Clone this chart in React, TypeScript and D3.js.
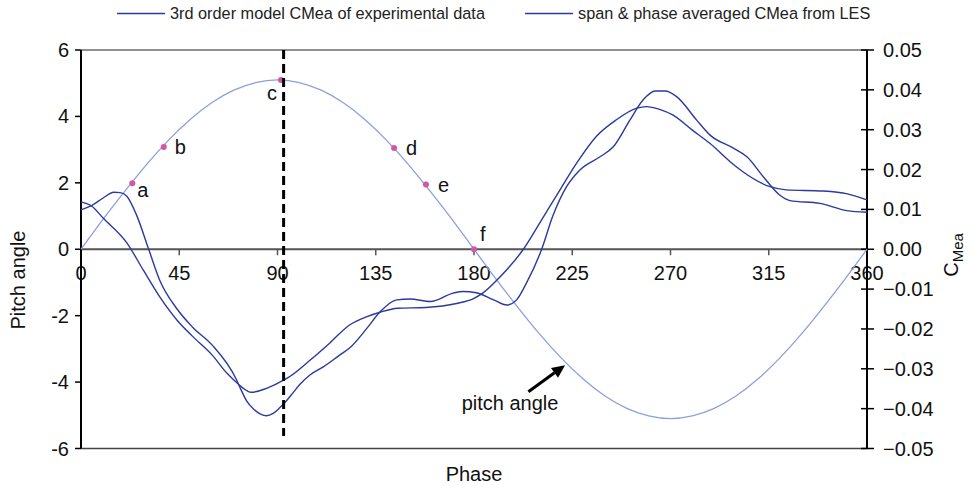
import React from "react";
import * as d3 from "d3";

// ---------- data ----------
const pitchPhase = [0, 10, 20, 30, 40, 50, 60, 70, 80, 90, 100, 110, 120, 130, 140, 150, 160, 170, 180,
  190, 200, 210, 220, 230, 240, 250, 260, 270, 280, 290, 300, 310, 320, 330, 340, 350, 360];
const pitchValues = [0, 0.89, 1.74, 2.55, 3.28, 3.91, 4.42, 4.79, 5.02, 5.1, 5.02, 4.79, 4.42, 3.91, 3.28, 2.55, 1.74, 0.89, 0,
  -0.89, -1.74, -2.55, -3.28, -3.91, -4.42, -4.79, -5.02, -5.1, -5.02, -4.79, -4.42, -3.91, -3.28, -2.55, -1.74, -0.89, 0];

// 3rd order model CMea of experimental data
const modelPhase = [0, 5, 10, 21, 28.5, 36, 44, 51, 60, 67, 72, 76, 78, 85, 93, 96, 105, 114, 123, 131, 137, 145, 158, 172, 180,
  184, 192, 202.6, 210, 219.4, 227, 236, 245, 254.5, 259, 265, 271, 280, 288, 299, 303, 315.6, 323, 340, 351, 360];
const modelValues = [0.0119, 0.0108, 0.0079, 0.0016, -0.0052, -0.0119, -0.0178, -0.0218, -0.0265, -0.0312, -0.0338, -0.0355, -0.0359, -0.0349, -0.0328, -0.0318, -0.0278, -0.0235, -0.019, -0.0169, -0.0158, -0.0148, -0.0146, -0.0136, -0.0123,
  -0.011, -0.0069, 0, 0.0065, 0.0149, 0.0216, 0.0283, 0.0324, 0.0354, 0.0358, 0.0351, 0.0337, 0.0299, 0.0266, 0.0212, 0.0195, 0.0157, 0.0149, 0.0146, 0.0139, 0.0124];

// span & phase averaged CMea from LES
const lesPhase = [0, 5, 10, 15, 18, 21, 25.5, 31, 36, 44, 51, 60, 71, 73, 76, 79, 82, 85, 88, 91, 94, 97, 100.3, 105, 111, 118.6, 123, 131, 137, 144.6, 150.7, 160, 170.5, 175, 181, 189, 195, 199.5, 204, 211, 216, 222.4, 228.5, 237.7, 243.8, 251.4, 257.5, 263, 267.5, 272.8, 282, 288, 299, 305, 312.5, 320, 324.7, 338.5, 350.7, 360];
const lesValues = [0.0099, 0.011, 0.0128, 0.0143, 0.0142, 0.0133, 0.0085, 0, -0.0077, -0.015, -0.0195, -0.024, -0.0325, -0.0349, -0.0382, -0.0401, -0.0413, -0.0418, -0.0412, -0.0398, -0.0381, -0.0361, -0.0339, -0.0315, -0.0295, -0.0265, -0.0248, -0.0198, -0.0157, -0.0127, -0.0125, -0.0131, -0.011, -0.0106, -0.0109, -0.0127, -0.014, -0.0127, -0.0085, 0, 0.0082, 0.0157, 0.0199, 0.0232, 0.0257, 0.0324, 0.0375, 0.0397, 0.0397, 0.0383, 0.0324, 0.0287, 0.0253, 0.0232, 0.0182, 0.0136, 0.0122, 0.0115, 0.0097, 0.0093];

const markerLabels = ["a", "b", "c", "d", "e", "f"];
const markerPhase = [23.5, 37.9, 91.6, 143.4, 158, 180];
const markerPitch = [1.99, 3.08, 5.1, 3.05, 1.95, 0];

const xTicks = [0, 45, 90, 135, 180, 225, 270, 315, 360];
const leftTicks = [-6, -4, -2, 0, 2, 4, 6];
const rightTicks = [-0.05, -0.04, -0.03, -0.02, -0.01, 0, 0.01, 0.02, 0.03, 0.04, 0.05];

const legendLabels = ["3rd order model CMea of experimental data", "span & phase averaged CMea from LES"];

const dashedPhase = 92.8;
const arrowFrom = [204.9, -4.29];
const arrowTo = [221.7, -3.49];
const arrowText = "pitch angle";
const arrowTextAt = [196.5, -4.84];

// ---------- style ----------
const W = 972, H = 486;
const FONT = "'Liberation Sans', Arial, Helvetica, sans-serif";
const DARK = "#2a3a9e";
const LIGHT = "#8e9fdc";
const PINK = "#d257a6";
const labelOffsets = [[5, 14], [11, 7], [-14, 20], [12, 7], [12, 8], [6, -8]];

export default function App() {
  const x = d3.scaleLinear().domain([0, 360]).range([81, 867]);
  const yL = d3.scaleLinear().domain([-6, 6]).range([448.5, 50]);
  const yR = d3.scaleLinear().domain([-0.05, 0.05]).range([448.5, 50]);

  const mk = (ph: number[], vals: number[], ys: d3.ScaleLinear<number, number>, curve: d3.CurveFactory) =>
    d3.line<number>()
      .x((_, i) => x(ph[i]))
      .y((v) => ys(v))
      .curve(curve)(vals) || "";

  const pitchPath = mk(pitchPhase, pitchValues, yL, d3.curveNatural);
  const modelPath = mk(modelPhase, modelValues, yR, d3.curveMonotoneX);
  const lesPath = mk(lesPhase, lesValues, yR, d3.curveMonotoneX);

  const x0 = x(0), x1 = x(360), yTop = yL(6), yBot = yL(-6), yZero = yL(0);

  const ax = x(arrowFrom[0]), ay = yL(arrowFrom[1]);
  const bx = x(arrowTo[0]), by = yL(arrowTo[1]);
  const ang = Math.atan2(by - ay, bx - ax);
  const hl = 13, hw = 6;
  const baseX = bx - hl * Math.cos(ang), baseY = by - hl * Math.sin(ang);
  const head = [
    [bx, by],
    [baseX + hw * Math.sin(ang), baseY - hw * Math.cos(ang)],
    [baseX - hw * Math.sin(ang), baseY + hw * Math.cos(ang)],
  ].map((p) => p.join(",")).join(" ");

  const fmtR = d3.format(".2f");

  return (
    <svg width={W} height={H} style={{ position: "absolute", left: 0, top: 0, background: "#fff" }} fontFamily={FONT}>
      {/* legend */}
      <g>
        <line x1={117} x2={165} y1={13.5} y2={13.5} stroke={DARK} strokeWidth={1.5} />
        <text x={170} y={19} fontSize={16.3} fill="#222">{legendLabels[0]}</text>
        <line x1={525} x2={573} y1={13.5} y2={13.5} stroke={DARK} strokeWidth={1.5} />
        <text x={578} y={19} fontSize={16.3} fill="#222">{legendLabels[1]}</text>
      </g>

      {/* frame */}
      <line x1={x0} x2={x1} y1={yTop} y2={yTop} stroke="#222" strokeWidth={1} />
      <line x1={x0} x2={x1} y1={yBot} y2={yBot} stroke="#444" strokeWidth={1.5} />
      <line x1={x0} x2={x1} y1={yZero} y2={yZero} stroke="#555" strokeWidth={2} />

      {/* x ticks on zero line */}
      {xTicks.map((t) => (
        <g key={"xt" + t}>
          <line x1={x(t)} x2={x(t)} y1={yZero} y2={yZero + 6} stroke="#555" strokeWidth={1.5} />
          <text x={x(t)} y={yZero + 31} fontSize={20} textAnchor="middle" fill="#111">{t}</text>
        </g>
      ))}

      {/* left axis */}
      <line x1={x0} x2={x0} y1={yTop} y2={yBot} stroke="#000" strokeWidth={2} />
      {leftTicks.map((t) => (
        <g key={"lt" + t}>
          <line x1={x0 - 6} x2={x0} y1={yL(t)} y2={yL(t)} stroke="#000" strokeWidth={1.5} />
          <text x={x0 - 12} y={yL(t) + 7} fontSize={20} textAnchor="end" fill="#111">{t}</text>
        </g>
      ))}

      {/* right axis */}
      <line x1={x1} x2={x1} y1={yTop} y2={yBot} stroke="#000" strokeWidth={2} />
      {rightTicks.map((t) => (
        <g key={"rt" + t}>
          <line x1={x1 - 6} x2={x1 + 7} y1={yR(t)} y2={yR(t)} stroke="#000" strokeWidth={1.5} />
          <text x={x1 + 16} y={yR(t) + 7} fontSize={20} textAnchor="start" fill="#111">
            {fmtR(Math.abs(t) < 1e-9 ? 0 : t)}
          </text>
        </g>
      ))}

      {/* axis titles */}
      <text transform="translate(25,280) rotate(-90)" fontSize={20} textAnchor="middle" fill="#111">Pitch angle</text>
      <text x={x(180)} y={481} fontSize={20} textAnchor="middle" fill="#111">Phase</text>
      <text transform="translate(958,255) rotate(-90)" fontSize={20} textAnchor="middle" fill="#111">
        C<tspan fontSize={15} dy={5}>Mea</tspan>
      </text>

      {/* pitch angle */}
      <path d={pitchPath} fill="none" stroke={LIGHT} strokeWidth={1.3} />

      {/* CMea curves */}
      <path d={modelPath} fill="none" stroke={DARK} strokeWidth={1.4} />
      <path d={lesPath} fill="none" stroke={DARK} strokeWidth={1.4} />

      {/* markers */}
      {markerLabels.map((lab, i) => {
        const cx = x(markerPhase[i]), cy = yL(markerPitch[i]);
        return (
          <g key={lab}>
            <circle cx={cx} cy={cy} r={3} fill={PINK} />
            <text x={cx + labelOffsets[i][0]} y={cy + labelOffsets[i][1]} fontSize={20} fill="#111">{lab}</text>
          </g>
        );
      })}

      {/* dashed line */}
      <line x1={x(dashedPhase)} x2={x(dashedPhase)} y1={yTop} y2={436} stroke="#000" strokeWidth={3} strokeDasharray="9,5" />

      {/* arrow annotation */}
      <line x1={ax} y1={ay} x2={baseX} y2={baseY} stroke="#000" strokeWidth={3} />
      <polygon points={head} fill="#000" />
      <text x={x(arrowTextAt[0])} y={yL(arrowTextAt[1])} fontSize={20} textAnchor="middle" fill="#111">{arrowText}</text>
    </svg>
  );
}
